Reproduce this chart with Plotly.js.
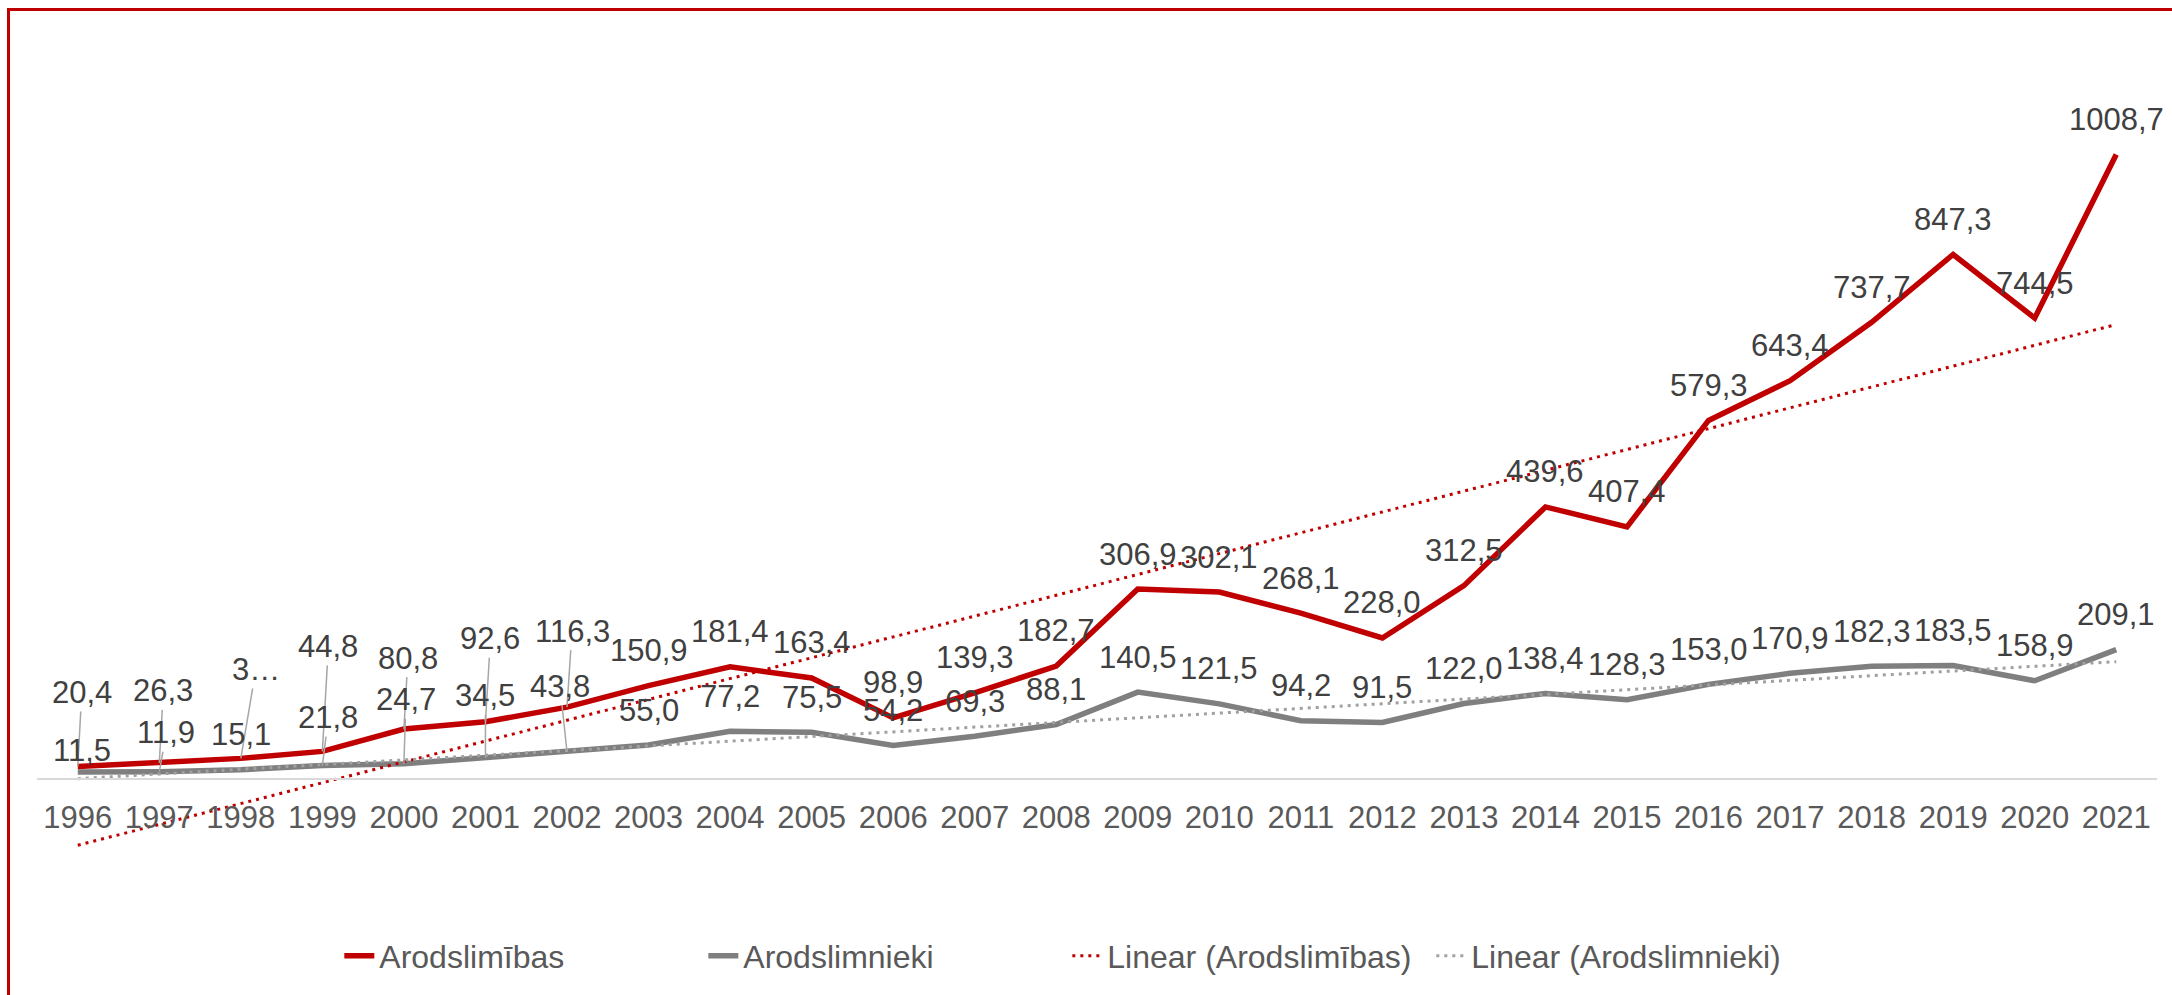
<!DOCTYPE html>
<html lang="lv">
<head>
<meta charset="UTF-8">
<title>Arodslimības un arodslimnieki</title>
<script src="https://cdn.plot.ly/plotly-3.0.1.min.js"></script>
<style>
  html, body { margin: 0; padding: 0; background: #fff; overflow: hidden; }
  #chart { width: 2172px; height: 995px; }
  #frame {
    position: absolute; left: 7px; top: 8px; right: 0; bottom: 0;
    border-top: 3px solid #c00000; border-left: 3px solid #c00000;
    pointer-events: none;
  }
</style>
</head>
<body>
<div id="chart"></div>
<div id="frame"></div>
<script>
const years = [1996, 1997, 1998, 1999, 2000, 2001, 2002, 2003, 2004, 2005, 2006, 2007, 2008,
               2009, 2010, 2011, 2012, 2013, 2014, 2015, 2016, 2017, 2018, 2019, 2020, 2021];

// Arodslimības (red)
const arodslimibas = [20.4, 26.3, 33.5, 44.8, 80.8, 92.6, 116.3, 150.9, 181.4, 163.4, 98.9, 139.3, 182.7,
                      306.9, 302.1, 268.1, 228.0, 312.5, 439.6, 407.4, 579.3, 643.4, 737.7, 847.3, 744.5, 1008.7];

// Arodslimnieki (grey)
const arodslimnieki = [11.5, 11.9, 15.1, 21.8, 24.7, 34.5, 43.8, 55.0, 77.2, 75.5, 54.2, 69.3, 88.1,
                       140.5, 121.5, 94.2, 91.5, 122.0, 138.4, 128.3, 153.0, 170.9, 182.3, 183.5, 158.9, 209.1];

// label text that was cut off in the original
const labelOverride = { red: { 1998: '3…' }, grey: {} };

// labels dragged away from their points in the original (px offset, leader line drawn)
const redMoved = { 1996: [4, -74], 1997: [4, -72], 1998: [15, -89], 1999: [6, -105],
                   2000: [4, -71], 2001: [5, -83], 2002: [5, -76] };
const greyMoved = { 1996: [4, -22], 1997: [7, -39], 1999: [6, -48], 2000: [2, -64],
                    2001: [0, -62], 2002: [-7, -66] };
const noLeader = { grey: [1996], red: [] };

const RED = '#c00000';
const GREY = '#7f7f7f';
const FONT = 'Liberation Sans, Arial, sans-serif';

function linearFit(xs, ys) {
  const n = xs.length;
  const mx = xs.reduce((a, b) => a + b, 0) / n;
  const my = ys.reduce((a, b) => a + b, 0) / n;
  let sxy = 0, sxx = 0;
  for (let i = 0; i < n; i++) {
    sxy += (xs[i] - mx) * (ys[i] - my);
    sxx += (xs[i] - mx) * (xs[i] - mx);
  }
  const k = sxy / sxx;
  return xs.map(x => my + k * (x - mx));
}

const fmt = v => v.toFixed(1).replace('.', ',');

function labels(values, moved, override, skipLeader) {
  return years.map((yr, i) => {
    const off = moved[yr] || [0, -35];
    const leader = moved[yr] && !skipLeader.includes(yr);
    return {
      x: yr, y: values[i],
      text: override[yr] || fmt(values[i]),
      showarrow: true,
      ax: off[0], ay: off[1],
      arrowhead: 0, arrowwidth: 1.5, standoff: 0,
      arrowcolor: leader ? '#a6a6a6' : 'rgba(0,0,0,0)',
      font: { family: FONT, size: 31, color: '#404040' }
    };
  });
}

const data = [
  { x: years, y: arodslimibas, name: 'Arodslimības', type: 'scatter', mode: 'lines',
    line: { color: RED, width: 5.5 } },
  { x: years, y: arodslimnieki, name: 'Arodslimnieki', type: 'scatter', mode: 'lines',
    line: { color: GREY, width: 5.5 } },
  { x: years, y: linearFit(years, arodslimibas), name: 'Linear (Arodslimības)', type: 'scatter', mode: 'lines',
    line: { color: RED, width: 3, dash: '3px,5px' } },
  { x: years, y: linearFit(years, arodslimnieki), name: 'Linear (Arodslimnieki)', type: 'scatter', mode: 'lines',
    line: { color: '#a0a0a0', width: 3, dash: '3px,5px' } }
];

const layout = {
  width: 2172, height: 995,
  margin: { l: 37, r: 15, t: 98, b: 123 },
  paper_bgcolor: '#fff', plot_bgcolor: '#fff',
  font: { family: FONT, size: 31, color: '#595959' },
  showlegend: true,
  legend: {
    orientation: 'h', x: 0.486, xanchor: 'center', y: -0.1085, yanchor: 'middle',
    entrywidth: 319, entrywidthmode: 'pixels',
    font: { family: FONT, size: 32, color: '#595959' }
  },
  xaxis: {
    range: [1995.5, 2021.5], dtick: 1, tickformat: 'd',
    anchor: 'free', position: 0.12,
    showline: true, linecolor: '#d9d9d9', linewidth: 2,
    showgrid: false, zeroline: false, ticks: '',
    ticklabelstandoff: 11,
    tickfont: { family: FONT, size: 31, color: '#595959' }
  },
  yaxis: {
    range: [-150, 1100], visible: false, showgrid: false, zeroline: false
  },
  annotations: labels(arodslimibas, redMoved, labelOverride.red, noLeader.red)
    .concat(labels(arodslimnieki, greyMoved, labelOverride.grey, noLeader.grey))
};

Plotly.newPlot('chart', data, layout, { displayModeBar: false, staticPlot: true });
</script>
</body>
</html>
